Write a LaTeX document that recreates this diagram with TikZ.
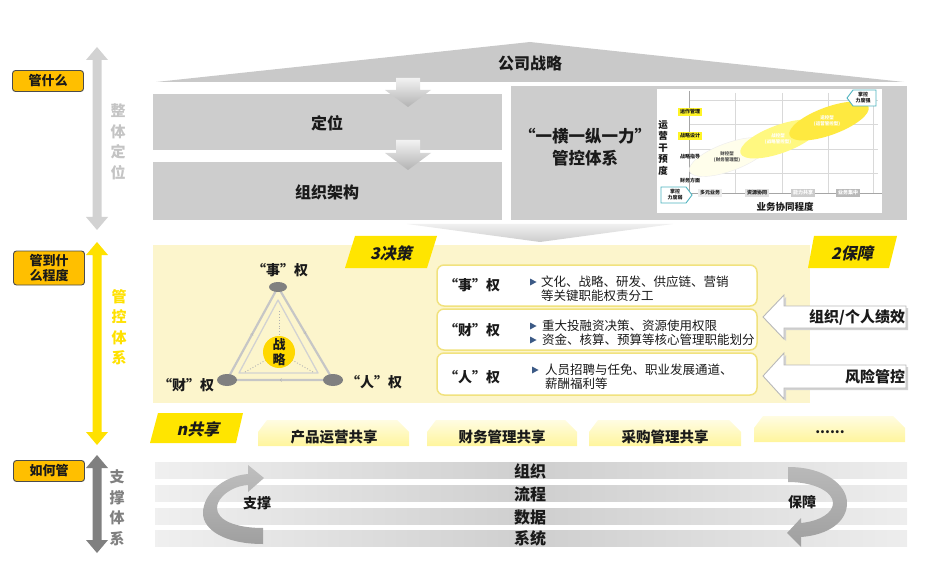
\documentclass[tikz,border=0pt]{standalone}
\usepackage{fontspec}
\setmainfont{Noto Sans CJK SC}
\newfontfamily\slantfont{Noto Sans CJK SC}[FakeSlant=0.22]
\usetikzlibrary{shapes.geometric,decorations.markings}
\definecolor{txtblack}{HTML}{1A1A1A}
\definecolor{lblorange}{HTML}{FFBF00}
\definecolor{tagyellow}{HTML}{FFE500}
\definecolor{paleyellow}{HTML}{FCF5CC}
\definecolor{boxgrey}{HTML}{CDCDCD}
\definecolor{roofgrey}{HTML}{C9C9C9}
\definecolor{txtgrey}{HTML}{C4C4C4}
\definecolor{darkgrey}{HTML}{808080}
\definecolor{arrowyellow}{HTML}{FFE100}
\definecolor{boxborder}{HTML}{F1E27E}
\definecolor{bulletblue}{HTML}{3C5A86}
\definecolor{chartteal}{HTML}{4FB3BF}
\definecolor{circleyellow}{HTML}{FFD800}
\definecolor{tabtop}{HTML}{FFFCE2}
\definecolor{tabbottom}{HTML}{FFF59C}
\newcommand\vdarrow[4]{%
  \fill[#4] (#1,#2) -- ({#1+11},{#2+13}) -- ({#1+4.5},{#2+13}) -- ({#1+4.5},{#3-13})
   -- ({#1+11},{#3-13}) -- (#1,#3) -- ({#1-11},{#3-13}) -- ({#1-4.5},{#3-13})
   -- ({#1-4.5},{#2+13}) -- ({#1-11},{#2+13}) -- cycle;}
\newcommand\sharetab[3]{%
  \shade[top color=tabtop,bottom color=tabbottom] (#1,#3+26) -- (#1,#3+12) -- ({#1+9},#3) -- ({#2-12},#3)
   -- (#2,#3+12) -- (#2,#3+26) -- cycle;}
\begin{document}
\begin{tikzpicture}[x=1pt,y=-1pt,
  every node/.style={inner sep=0pt,outer sep=0pt,text=txtblack},
  lbl/.style={draw=black!70,line width=0.9pt,fill=lblorange,rounded corners=3pt,
    minimum width=71pt,font=\fontsize{13}{15}\selectfont\bfseries,align=center},
  bigtxt/.style={font=\fontsize{16}{19}\selectfont\bfseries,align=center},
  midtxt/.style={font=\fontsize{14}{16}\selectfont\bfseries},
  vtxt/.style={font=\fontsize{15}{20.5}\selectfont\bfseries,align=center},
  bodytxt/.style={font=\fontsize{12.5}{14}\selectfont,align=left,anchor=west},
  tagtxt/.style={font=\slantfont\fontsize{16}{19}\selectfont\bfseries},
  tinytxt/.style={font=\fontsize{5}{6}\selectfont\bfseries,align=center},
  elltxt/.style={font=\fontsize{4.5}{6}\selectfont\bfseries,align=center},
  xlab/.style={font=\fontsize{5}{6}\selectfont\bfseries,inner xsep=2pt,inner ysep=1.5pt},
  infobox/.style={draw=boxborder,line width=1.5pt,fill=white,rounded corners=7pt},
  blockarrow/.style={draw=gray!55,line width=0.9pt,fill=white},
  tri/.style={decoration={markings,mark=at position 0.5 with {\arrow[gray!60]{>}}},postaction={decorate}}
]
\useasboundingbox (0,0) rectangle (928,577);

% ---------- left column ----------
\node[lbl,minimum height=21pt] (q1) at (48,81) {管什么};
\node[lbl,minimum height=34pt] (q2) at (49,268) {管到什\\么程度};
\node[lbl,minimum height=21pt] (q3) at (49,471) {如何管};
\vdarrow{97}{47}{230}{gray!35}
\vdarrow{97}{242}{445}{arrowyellow}
\vdarrow{97}{455}{553}{darkgrey}
\node[vtxt,text=txtgrey] (v1) at (118,142) {整\\体\\定\\位};
\node[vtxt,text=arrowyellow] (v2) at (119,327) {管\\控\\体\\系};
\node[vtxt,text=darkgrey] (v3) at (117,508) {支\\撑\\体\\系};

% ---------- top section ----------
\fill[roofgrey] (156,82) -- (530,42) -- (904,82) -- cycle;
\node[bigtxt] (strat) at (530,63) {公司战略};
\fill[boxgrey] (153,94) rectangle (502,150);
\fill[boxgrey] (153,162) rectangle (502,220);
\node[bigtxt] (pos) at (327,123) {定位};
\node[bigtxt] (org) at (327,192) {组织架构};
\shade[top color=gray!10,bottom color=gray!60] (396,78) -- (420,78) -- (420,90) -- (431,90)
  -- (408,107) -- (385,90) -- (396,90) -- cycle;
\shade[top color=gray!10,bottom color=gray!60] (396,140) -- (420,140) -- (420,153) -- (431,153)
  -- (408,170) -- (385,153) -- (396,153) -- cycle;
\fill[boxgrey] (511,86) rectangle (907,220);
\node[bigtxt,font=\fontsize{16.5}{22}\selectfont\bfseries] (ctrl) at (585,147) {“一横一纵一力”\\管控体系};

% chart
\fill[white] (657,89) rectangle (882,213);
\foreach \gx in {735,782,828,873} \draw[gray!30,line width=0.5pt] (\gx,93) -- (\gx,193);
\foreach \gy in {100,124,149,173} \draw[gray!30,line width=0.5pt] (689,\gy) -- (878,\gy);
\draw[gray!70,line width=0.6pt] (689,91) -- (689,193) -- (882,193);
\filldraw[fill=yellow!8!white,draw=gray!15,rotate around={20:(729,157)}] (729,157) ellipse (42 and 14);
\fill[yellow!50!white,rotate around={20:(780,139)}] (780,139) ellipse (42 and 14);
\fill[yellow!85!orange!75!white,rotate around={20:(829,121)}] (829,121) ellipse (42 and 14);
\node[elltxt,text=black!70] (e1) at (727,157) {财控型\\(财务管理型)};
\node[elltxt,text=white] (e2) at (778,139) {战控型\\(战略管控型)};
\node[elltxt,text=white] (e3) at (827,121) {运控型\\(运营管控型)};
\node[xlab,fill=yellow!85] (y1) at (690,112) {运作管理};
\node[xlab,fill=yellow!85] (y2) at (690,136) {战略设计};
\node[xlab] (y3) at (690,157) {战略指导};
\node[xlab] (y4) at (690,181) {财务方面};
\node[font=\fontsize{9.5}{11.5}\selectfont\bfseries,align=center] (yax) at (663,148) {运\\营\\干\\预\\度};
\node[xlab,fill=gray!15] (x1) at (710,193) {多元业务};
\node[xlab,fill=gray!25] (x2) at (757,193) {资源协同};
\node[xlab,fill=gray!40,text=white] (x3) at (803,193) {能力共享};
\node[xlab,fill=gray!55,text=white] (x4) at (848,193) {业务集中};
\node[font=\fontsize{9.5}{11}\selectfont\bfseries] (xax) at (785,207) {业务协同程度};
\draw[chartteal,line width=0.9pt,fill=white] (661,187) -- (686,187) -- (692,195) -- (686,203) -- (661,203) -- cycle;
\node[tinytxt] (weak) at (675,195) {掌控\\力度弱};
\draw[chartteal,line width=0.9pt,fill=white] (876,90) -- (853,90) -- (847,98) -- (853,106) -- (876,106) -- cycle;
\node[tinytxt] (strong) at (863,98) {掌控\\力度强};

% funnel
\shade[top color=gray!12,bottom color=gray!40] (407,224) -- (673,224) -- (540,242) -- cycle;

% ---------- middle section ----------
\fill[paleyellow] (153,245) rectangle (810,403);
\fill[tagyellow] (345,268) -- (355,236) -- (437,236) -- (427,268) -- cycle;
\node[tagtxt] (dec) at (391,253) {3决策};
\fill[tagyellow] (808,268) -- (814,236) -- (897,236) -- (889,268) -- cycle;
\node[tagtxt] (guar) at (852,253) {2保障};

% triangle
\coordinate (vs) at (278,287);
\coordinate (vc) at (227,380);
\coordinate (vp) at (333,380);
\draw[gray!45,line width=2.2pt,line join=round] (vs) -- (vc) -- (vp) -- cycle;
\draw[gray!35,line width=1.3pt,line join=round] (278,300) -- (239,373) -- (318,373) -- cycle;
\path[tri] (vc) -- (vs);
\path[tri] (vs) -- (vp);
\path[tri] (vp) -- (vc);
\draw[gray!60,dotted,line width=0.9pt] (279,311) -- (279,336);
\draw[gray!60,dotted,line width=0.9pt] (245,372) -- (266,360);
\draw[gray!60,dotted,line width=0.9pt] (292,360) -- (313,372);
\node[ellipse,fill=darkgrey,minimum width=18pt,minimum height=10pt] (ns) at (vs) {};
\node[ellipse,fill=darkgrey,minimum width=20pt,minimum height=12pt] (nc) at (vc) {};
\node[ellipse,fill=darkgrey,minimum width=20pt,minimum height=12pt] (np) at (vp) {};
\node[circle,fill=circleyellow,minimum size=32pt,font=\fontsize{13}{15}\selectfont\bfseries,align=center] (core) at (279,352) {战\\略};
\node[midtxt] (ls) at (280,270) {“事”权};
\node[midtxt] (lc) at (186,385) {“财”权};
\node[midtxt] (lp) at (374,382) {“人”权};

% info boxes
\draw[infobox] (437,265) rectangle (757,306);
\draw[infobox] (437,309) rectangle (757,350);
\draw[infobox] (437,353) rectangle (757,395);
\node[midtxt] (b1) at (472,285) {“事”权};
\node[midtxt] (b2) at (472,330) {“财”权};
\node[midtxt] (b3) at (472,377) {“人”权};
\fill[bulletblue] (530,278.5) -- (536.5,282) -- (530,285.5) -- cycle;
\fill[bulletblue] (530,322.5) -- (536.5,326) -- (530,329.5) -- cycle;
\fill[bulletblue] (530,336.5) -- (536.5,340) -- (530,343.5) -- cycle;
\fill[bulletblue] (532,366.5) -- (538.5,370) -- (532,373.5) -- cycle;
\node[bodytxt] (t1) at (541,289) {文化、战略、研发、供应链、营销\\等关键职能权责分工};
\node[bodytxt] (t2) at (542,333) {重大投融资决策、资源使用权限\\资金、核算、预算等核心管理职能划分};
\node[bodytxt] (t3) at (545,377) {人员招聘与任免、职业发展通道、\\薪酬福利等};

% guarantee arrows
\fill[gray!35] (765,319) -- (786,297) -- (786,308) -- (908,308) -- (908,330) -- (786,330) -- (786,341) -- cycle;
\draw[blockarrow] (763,317) -- (784,295) -- (784,306) -- (906,306) -- (906,328) -- (784,328) -- (784,339) -- cycle;
\fill[gray!35] (765,378) -- (786,355) -- (786,367) -- (908,367) -- (908,390) -- (786,390) -- (786,401) -- cycle;
\draw[blockarrow] (763,376) -- (784,353) -- (784,365) -- (906,365) -- (906,388) -- (784,388) -- (784,399) -- cycle;
\node[bigtxt,font=\fontsize{15}{18}\selectfont\bfseries,anchor=east] (perf) at (905,317) {组织/个人绩效};
\node[bigtxt,font=\fontsize{15}{18}\selectfont\bfseries,anchor=east] (risk) at (905,377) {风险管控};

% sharing row
\fill[tagyellow] (150,443) -- (158,413) -- (243,413) -- (236,443) -- cycle;
\node[tagtxt] (share) at (198,429) {n共享};
\sharetab{258}{409}{420}
\sharetab{427}{577}{420}
\sharetab{589}{741}{420}
\sharetab{754}{905}{416}
\node[font=\fontsize{14.5}{16}\selectfont\bfseries] (s1) at (334,437) {产品运营共享};
\node[font=\fontsize{14.5}{16}\selectfont\bfseries] (s2) at (502,437) {财务管理共享};
\node[font=\fontsize{14.5}{16}\selectfont\bfseries] (s3) at (665,437) {采购管理共享};
\node[midtxt] (s4) at (830,432) {......};

% ---------- bottom section ----------
\shade[left color=gray!12,right color=gray!14,middle color=gray!38] (155,462) rectangle (907,478);
\shade[left color=gray!12,right color=gray!14,middle color=gray!38] (155,485) rectangle (907,501);
\shade[left color=gray!12,right color=gray!14,middle color=gray!38] (155,508) rectangle (907,524);
\shade[left color=gray!12,right color=gray!14,middle color=gray!38] (155,530) rectangle (907,546);
\node[bigtxt] (r1) at (530,471) {组织};
\node[bigtxt] (r2) at (530,494) {流程};
\node[bigtxt] (r3) at (530,517) {数据};
\node[bigtxt] (r4) at (530,538) {系统};
\shade[top color=gray!50,bottom color=gray!75] (263,544) .. controls (225,544) and (203,530) .. (203,513)
  .. controls (203,495) and (222,476) .. (248,474) -- (248,465) -- (264,478) -- (248,492) -- (248,485)
  .. controls (232,486) and (217,497) .. (217,508) .. controls (217,520) and (235,528) .. (263,528) -- cycle;
\shade[top color=gray!55,bottom color=gray!75] (788,467) .. controls (825,467) and (847,485) .. (847,503)
  .. controls (847,522) and (828,535) .. (801,537) -- (801,547) -- (787,533) -- (801,518) -- (801,523)
  .. controls (820,521) and (833,513) .. (833,503) .. controls (833,492) and (815,482) .. (788,482) -- cycle;
\node[midtxt] (sup) at (257,503) {支撑};
\node[midtxt] (grt) at (802,502) {保障};
\end{tikzpicture}
\end{document}
